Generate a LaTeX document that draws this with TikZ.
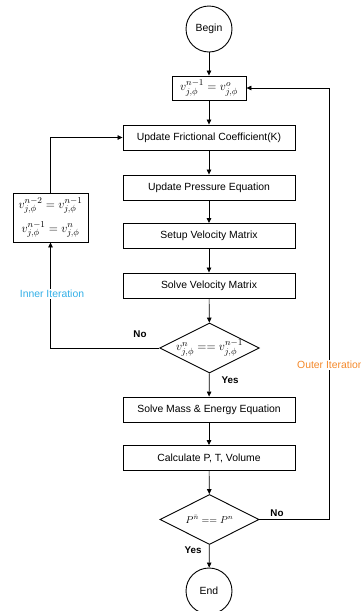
\documentclass[tikz,border=0pt]{standalone}
\usepackage{fontspec}
\setmainfont{Liberation Sans}
\usetikzlibrary{shapes.geometric,arrows.meta}
\definecolor{innerc}{HTML}{33B0E8}
\definecolor{outerc}{HTML}{F5892A}
\tikzset{
  procbox/.style={draw, line width=0.9pt, minimum width=172pt, minimum height=25pt, inner sep=0pt, font=\fontsize{10.4}{12}\selectfont},
  mathfont/.style={font=\fontsize{12.5}{14}\selectfont},
  termc/.style={draw, line width=0.9pt, circle, minimum size=46pt, inner sep=0pt, font=\fontsize{10.4}{12}\selectfont},
  decis/.style={draw, line width=0.9pt, diamond, aspect=2, minimum width=99pt, minimum height=50pt, inner sep=0pt, font=\fontsize{10.4}{12}\selectfont},
  arr/.style={line width=0.7pt, -{Triangle[length=5pt,width=4.5pt]}},
  lbl/.style={font=\fontsize{9.8}{12}\selectfont\bfseries, inner sep=0pt},
  iter/.style={font=\fontsize{10.4}{12}\selectfont, inner sep=1pt, fill=white}
}
\begin{document}
\begin{tikzpicture}[x=1pt,y=-1pt]
\useasboundingbox (0,0) rectangle (360,611);
\node[termc] (begin) at (209,29) {Begin};
\node[procbox, mathfont, minimum width=74pt, minimum height=24pt] (init) at (209,88) {$v_{j,\phi}^{n-1}=v_{j,\phi}^{o}$};
\node[procbox] (fric) at (209,137.5) {Update Frictional Coefficient(K)};
\node[procbox] (press) at (209,187.5) {Update Pressure Equation};
\node[procbox] (setup) at (209,236) {Setup Velocity Matrix};
\node[procbox] (solve) at (209,285.5) {Solve Velocity Matrix};
\node[decis, mathfont] (d1) at (209.5,348) {$v_{j,\phi}^{n}==v_{j,\phi}^{n-1}$};
\node[procbox, mathfont, minimum width=75pt, minimum height=49pt, align=center] (upd) at (50.5,217.5) {$v_{j,\phi}^{n-2}=v_{j,\phi}^{n-1}$\\[7pt]$v_{j,\phi}^{n-1}=v_{j,\phi}^{n}$};
\node[procbox] (mass) at (209,409.5) {Solve Mass \& Energy Equation};
\node[procbox] (calc) at (209,458) {Calculate P, T, Volume};
\node[decis] (d2) at (209.5,519.5) {$P^{\bar{n}}==P^{n}$};
\node[termc] (end) at (209,591) {End};
\coordinate (oc) at (329,88);

\draw[arr] (begin) -- (init);
\draw[arr] (init) -- (fric);
\draw[arr] (fric) -- (press);
\draw[arr] (press) -- (setup);
\draw[arr] (setup) -- (solve);
\draw[arr] (solve) -- (d1);
\draw[arr] (d1) -- (mass);
\draw[arr] (mass) -- (calc);
\draw[arr] (calc) -- (d2);
\draw[arr] (d2) -- (end);
\draw[arr] (d1.west) -| (upd.south);
\draw[arr] (upd.north) |- (fric.west);
\draw[arr] (d2.east) -| (oc) -- (init.east);

\node[lbl] (no1) at (140,334) {No};
\node[lbl] (yes1) at (230,380) {Yes};
\node[lbl] (no2) at (277,513) {No};
\node[lbl] (yes2) at (193,550) {Yes};
\node[iter, text=innerc] (inner) at (52,294) {Inner Iteration};
\node[iter, text=outerc, anchor=west] (outer) at (296,365) {Outer Iteration};
\end{tikzpicture}
\end{document}
